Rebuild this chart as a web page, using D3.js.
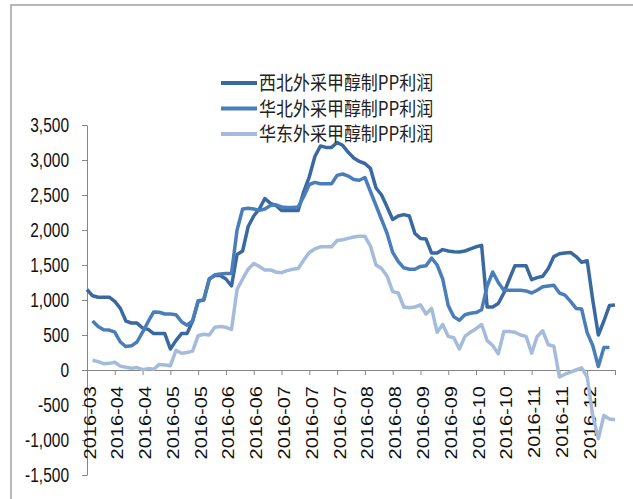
<!DOCTYPE html>
<html lang="zh">

<head>
  <meta charset="utf-8">
  <title>外采甲醇制PP利润</title>
  <script type="text/javascript" src="https://d3js.org/d3.v7.min.js"></script>
  <style>
    body { margin: 0; background: #fff; }
    .axis path, .axis line { stroke: #868686; }
  </style>
</head>

<body>
  <div id="chart"></div>

  <script type="text/javascript">
    // labels under every 5th category
    var xLabels = ["2016-03", "2016-04", "2016-04", "2016-05", "2016-05", "2016-06", "2016-06",
      "2016-07", "2016-07", "2016-07", "2016-08", "2016-08", "2016-09", "2016-09",
      "2016-10", "2016-10", "2016-11", "2016-11", "2016-12"];
    var yTicks = [-1500, -1000, -500, 0, 500, 1000, 1500, 2000, 2500, 3000, 3500];
    var seriesNames = ["西北外采甲醇制PP利润", "华北外采甲醇制PP利润", "华东外采甲醇制PP利润"];

    var xibei = [1150, 1060, 1040, 1040, 1040, 980, 880, 700, 670, 670,
      600, 580, 520, 520, 520, 300, 420, 520, 520, 700,
      990, 1000, 1300, 1350, 1350, 1300, 1200, 1650, 1700, 2050,
      2200, 2300, 2450, 2380, 2350, 2280, 2280, 2280, 2280, 2550,
      2760, 3050, 3200, 3180, 3180, 3250, 3210, 3110, 3030, 2980,
      2950, 2880, 2600, 2500, 2330, 2150, 2200, 2220, 2200, 1950,
      1880, 1870, 1670, 1670, 1720, 1700, 1690, 1685, 1700, 1730,
      1760, 1780, 900, 900, 950, 1100, 1300, 1490, 1490, 1490,
      1290, 1320, 1340, 1450, 1620, 1660, 1670, 1680, 1620, 1540,
      1560, 1000, 500, 700, 920, 930];

    var huabei = [null, 700, 620, 575, 570, 540, 400, 335, 345, 400,
      540, 690, 830, 825, 800, 800, 790, 690, 640, 700,
      980, 1000, 1300, 1360, 1370, 1380, 1380, 2000, 2300, 2310,
      2300, 2280, 2300, 2350, 2360, 2330, 2320, 2320, 2330, 2480,
      2650, 2680, 2660, 2660, 2660, 2780, 2800, 2770, 2720, 2710,
      2750, 2550, 2350, 2150, 1950, 1680, 1550, 1460, 1440, 1440,
      1480, 1490, 1600, 1500, 1300, 920, 760, 710, 790, 810,
      820, 860, 1200, 1400, 1250, 1140, 1140, 1140, 1140, 1130,
      1100, 1140, 1190, 1200, 1210, 1100, 1070, 980, 880, 870,
      530, 350, 50, 320, 320, null];

    var huadong = [null, 140, 120, 90, 95, 110, 55, 40, 25, 35,
      5, 20, 10, 80, 70, 60, 280, 240, 250, 270,
      490, 510, 500, 610, 620, 610, 580, 1150, 1300, 1440,
      1520, 1480, 1430, 1430, 1400, 1390, 1420, 1440, 1450, 1570,
      1680, 1730, 1760, 1760, 1760, 1850, 1860, 1880, 1900, 1910,
      1910, 1770, 1500, 1450, 1340, 1120, 1100, 900, 890, 900,
      930, 800, 880, 540, 650, 480, 460, 300, 480, 540,
      590, 650, 420, 350, 230, 550, 550, 540, 500, 480,
      240, 480, 560, 360, 340, -100, -60, -30, 0, 30,
      -100, -650, -980, -650, -700, -710];

    var colors = ["#3a69a2", "#4a7ebb", "#a5bbdb"];
    var allSeries = [xibei, huabei, huadong];

    var width = 633, height = 499;
    var svg = d3.select("#chart").append("svg")
      .attr("width", width)
      .attr("height", height);

    // outer frame
    svg.append("rect")
      .attr("x", 11).attr("y", 5)
      .attr("width", 660).attr("height", 520)
      .attr("fill", "none")
      .attr("stroke", "#a0a0a0")
      .attr("stroke-width", 1.5);

    var x = d3.scaleLinear().domain([0, xibei.length - 1]).range([87, 615]);
    var y = d3.scaleLinear().domain([-1500, 3500]).range([475, 125]);

    var yAxis = d3.axisLeft(y)
      .tickValues(yTicks)
      .tickSize(5)
      .tickSizeOuter(0)
      .tickPadding(0)
      .tickFormat(function (d) { return d3.format(",")(d).replace("\u2212", "-"); });

    var gy = svg.append("g")
      .attr("class", "axis")
      .attr("transform", "translate(87,0)")
      .call(yAxis);
    gy.selectAll("text")
      .attr("x", 0)
      .attr("dy", "0.33em")
      .attr("transform", "translate(-18,0) scale(1,1.3)")
      .attr("font-family", "Liberation Sans, Arial, sans-serif")
      .attr("font-size", 15.5)
      .attr("fill", "#111");

    var xTickIdx = d3.range(0, xibei.length, 5);
    var xAxis = d3.axisBottom(x)
      .tickValues(xTickIdx)
      .tickSize(5)
      .tickSizeOuter(0)
      .tickFormat(function (d, i) { return xLabels[i] || ""; });

    var gx = svg.append("g")
      .attr("class", "axis")
      .attr("transform", "translate(0," + y(0) + ")")
      .call(xAxis);
    gx.selectAll("text")
      .attr("x", 0).attr("y", 0).attr("dy", 0)
      .attr("text-anchor", "end")
      .attr("transform", "translate(8,16) rotate(-90) scale(1.25,1)")
      .attr("font-family", "Liberation Sans, Arial, sans-serif")
      .attr("font-size", 16)
      .attr("fill", "#111");

    var line = d3.line()
      .defined(function (d) { return d != null; })
      .x(function (d, i) { return x(i); })
      .y(function (d) { return y(d); });

    allSeries.forEach(function (data, k) {
      svg.append("path")
        .datum(data)
        .attr("d", line)
        .attr("fill", "none")
        .attr("stroke", colors[k])
        .attr("stroke-width", 3.5)
        .attr("stroke-linejoin", "round");
    });

    // legend
    var legend = svg.append("g");
    seriesNames.forEach(function (name, k) {
      var cy = 83 + k * 25.5;
      legend.append("line")
        .attr("x1", 221).attr("x2", 257)
        .attr("y1", cy).attr("y2", cy)
        .attr("stroke", colors[k])
        .attr("stroke-width", 4);
      legend.append("text")
        .attr("transform", "translate(259," + cy + ") scale(1,1.15)")
        .attr("dy", "0.38em")
        .attr("font-family", "Noto Sans CJK SC, sans-serif")
        .attr("font-size", 17)
        .attr("fill", "#222")
        .text(name);
    });
  </script>
</body>

</html>
